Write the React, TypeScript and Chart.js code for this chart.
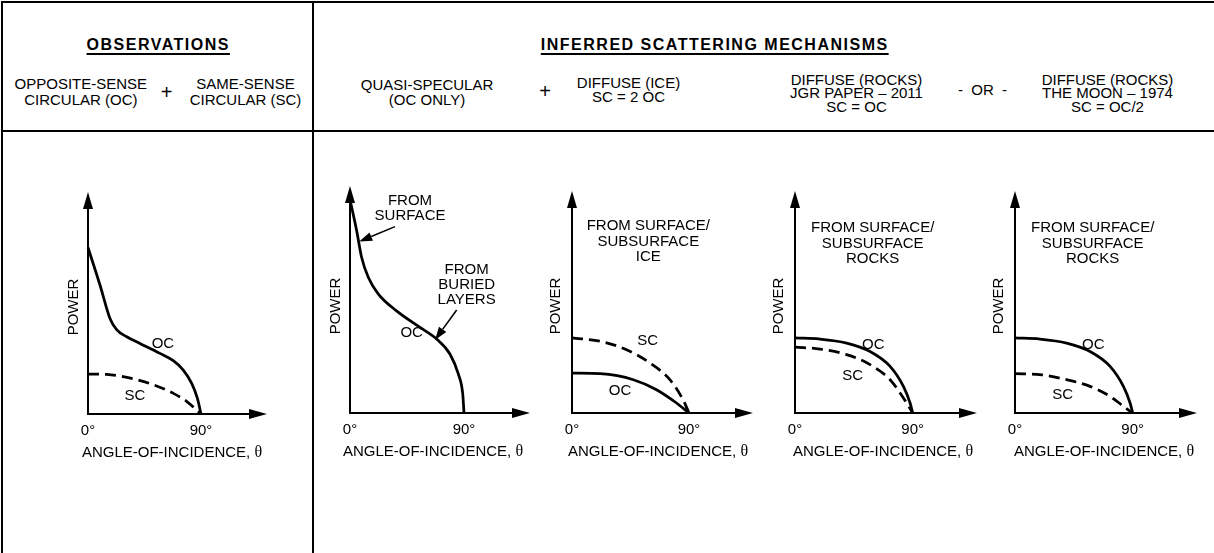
import React, { useEffect, useRef } from "react";
import { Chart, registerables } from "chart.js";

Chart.register(...registerables);

const SANS = '"Liberation Sans", Arial, Helvetica, sans-serif';
const SERIF = '"Liberation Serif", "Times New Roman", serif';

// ---------- DATA ----------
// Panel 1: observations (OC + SC)
const obsOcTheta = [0, 9.6, 17.5, 22.8, 30.8, 41.4, 57.3, 67.9, 75.9, 82.6, 87.1, 90];
const obsOC = [75, 58, 43, 38, 34.8, 31.8, 27.3, 24, 19.8, 13.8, 7.1, 0];
const obsScTheta = [0, 15, 28, 49, 68, 79, 90];
const obsSC = [18, 17.8, 16.8, 13.8, 9.3, 5.5, 0];

// Panel 2: quasi-specular (OC only)
const qsTheta = [0, 5.3, 9.2, 14.5, 22.4, 37, 55.3, 68.4, 78.9, 85.5, 89, 90];
const qsOC = [94, 80.2, 68.5, 59.7, 52.4, 44.9, 37.7, 32.6, 26, 17.2, 8.4, 0];

// Panel 3: diffuse (ice), SC = 2 OC
const iceOcTheta = [0, 21.7, 47.2, 65, 80.4, 90];
const iceOC = [18, 17.7, 15, 10.5, 4.5, 0];
const iceScTheta = [0, 21.7, 42, 60, 75.3, 85.4, 90];
const iceSC = [33.8, 32.3, 28.5, 22.5, 15, 6, 0];

// Panel 4: diffuse (rocks) JGR 2011, SC = OC
const rockOcTheta = [0, 19.1, 39.5, 57.4, 72.7, 82.9, 88, 90];
const jgrOC = [33.8, 33.3, 31.5, 27.7, 21, 12, 4.5, 0];
const rockScTheta = [0, 19.1, 39.5, 57.4, 72.7, 82.9, 90];
const jgrSC = [29.7, 28.8, 26.3, 21.8, 15, 6.8, 0];

// Panel 5: diffuse (rocks) Moon 1974, SC = OC/2
const moonOC = [33.8, 33.3, 31.5, 27.7, 21, 12, 4.5, 0];
const moonSC = [17.7, 17.3, 15, 12, 7.5, 3, 0];

// Axis texts
const xTickValues = [0, 90];
const xTickLabels = ["0°", "90°"];
const yAxisTitle = "POWER";
const xAxisTitle = "ANGLE-OF-INCIDENCE, ";
const xAxisSymbol = "θ";

// Header texts
const headTitles = ["OBSERVATIONS", "INFERRED SCATTERING MECHANISMS"];
const obsHeads = [
  ["OPPOSITE-SENSE", "CIRCULAR (OC)"],
  ["SAME-SENSE", "CIRCULAR (SC)"],
];
const mechHeads = [
  ["QUASI-SPECULAR", "(OC ONLY)"],
  ["DIFFUSE (ICE)", "SC = 2 OC"],
  ["DIFFUSE (ROCKS)", "JGR PAPER – 2011", "SC = OC"],
  ["DIFFUSE (ROCKS)", "THE MOON – 1974", "SC = OC/2"],
];
const joiners = ["+", "+", "-\u00a0\u00a0OR\u00a0\u00a0-"];

// ---------- LAYOUT ----------
type Series = { theta: number[]; power: number[]; dashed: boolean };
type Label = { text: string; x: number; y: number };
type Arrow = { from: [number, number]; to: [number, number] };
type Panel = {
  originX: number;
  originY: number;
  x90: number;
  xTip: number;
  yTop: number;
  series: Series[];
  labels: Label[];
  arrows: Arrow[];
  titleOffset: number;
  powerOffset: number;
};

const panels: Panel[] = [
  {
    originX: 88, originY: 414, x90: 201, xTip: 267, yTop: 192,
    series: [
      { theta: obsOcTheta, power: obsOC, dashed: false },
      { theta: obsScTheta, power: obsSC, dashed: true },
    ],
    labels: [
      { text: "OC", x: 59.7, y: 32 },
      { text: "SC", x: 37.4, y: 8.6 },
    ],
    arrows: [],
    titleOffset: 84,
    powerOffset: -15,
  },
  {
    originX: 350, originY: 413, x90: 464, xTip: 530, yTop: 186,
    series: [{ theta: qsTheta, power: qsOC, dashed: false }],
    labels: [
      { text: "OC", x: 48.7, y: 35.8 },
      { text: "FROM", x: 47.4, y: 93.8 },
      { text: "SURFACE", x: 47.4, y: 87.5 },
      { text: "FROM", x: 92.1, y: 63.6 },
      { text: "BURIED", x: 92.1, y: 57.1 },
      { text: "LAYERS", x: 92.1, y: 50.3 },
    ],
    arrows: [
      { from: [35.5, 82.1], to: [7.3, 75.5] },
      { from: [84.2, 45.4], to: [67.1, 32.2] },
    ],
    titleOffset: 83,
    powerOffset: -15,
  },
  {
    originX: 572, originY: 413, x90: 689, xTip: 753, yTop: 191,
    series: [
      { theta: iceOcTheta, power: iceOC, dashed: false },
      { theta: iceScTheta, power: iceSC, dashed: true },
    ],
    labels: [
      { text: "SC", x: 58.2, y: 32.9 },
      { text: "OC", x: 36.9, y: 10.4 },
      { text: "FROM SURFACE/", x: 58.7, y: 84.7 },
      { text: "SUBSURFACE", x: 58.7, y: 77.5 },
      { text: "ICE", x: 58.7, y: 70.7 },
    ],
    arrows: [],
    titleOffset: 86,
    powerOffset: -17,
  },
  {
    originX: 795, originY: 413, x90: 912.7, xTip: 977, yTop: 191,
    series: [
      { theta: rockOcTheta, power: jgrOC, dashed: false },
      { theta: rockScTheta, power: jgrSC, dashed: true },
    ],
    labels: [
      { text: "OC", x: 59.9, y: 31.1 },
      { text: "SC", x: 44.1, y: 17.1 },
      { text: "FROM SURFACE/", x: 59.4, y: 83.8 },
      { text: "SUBSURFACE", x: 59.4, y: 76.6 },
      { text: "ROCKS", x: 59.4, y: 69.8 },
    ],
    arrows: [],
    titleOffset: 88,
    powerOffset: -17,
  },
  {
    originX: 1015, originY: 413, x90: 1132.7, xTip: 1197, yTop: 191,
    series: [
      { theta: rockOcTheta, power: moonOC, dashed: false },
      { theta: rockScTheta, power: moonSC, dashed: true },
    ],
    labels: [
      { text: "OC", x: 59.9, y: 31.1 },
      { text: "SC", x: 36.5, y: 8.9 },
      { text: "FROM SURFACE/", x: 59.4, y: 83.8 },
      { text: "SUBSURFACE", x: 59.4, y: 76.6 },
      { text: "ROCKS", x: 59.4, y: 69.8 },
    ],
    arrows: [],
    titleOffset: 89,
    powerOffset: -17,
  },
];

const CAP = 5.4; // cap-centre to baseline offset at 15px

function centerText(ctx: CanvasRenderingContext2D, text: string, cx: number, cy: number) {
  ctx.font = `15px ${SANS}`;
  ctx.textAlign = "center";
  ctx.textBaseline = "alphabetic";
  ctx.fillText(text, cx, cy + CAP);
}

function makePlugin(p: Panel) {
  return {
    id: "panelDecor",
    beforeDatasetsDraw(chart: any) {
      const ctx: CanvasRenderingContext2D = chart.ctx;
      const xs = chart.scales.x;
      const ys = chart.scales.y;
      const ox = xs.getPixelForValue(0);
      const oy = ys.getPixelForValue(0);
      const tipX = chart.chartArea.right;
      const tipY = chart.chartArea.top;
      ctx.save();
      ctx.strokeStyle = "#000";
      ctx.fillStyle = "#000";
      ctx.lineWidth = 2;
      ctx.beginPath();
      ctx.moveTo(ox, oy + 1);
      ctx.lineTo(ox, tipY + 10);
      ctx.moveTo(ox - 1, oy);
      ctx.lineTo(tipX - 10, oy);
      ctx.stroke();
      ctx.beginPath();
      ctx.moveTo(ox, tipY);
      ctx.lineTo(ox - 5, tipY + 17);
      ctx.lineTo(ox + 5, tipY + 17);
      ctx.closePath();
      ctx.fill();
      ctx.beginPath();
      ctx.moveTo(tipX, oy);
      ctx.lineTo(tipX - 18, oy - 5);
      ctx.lineTo(tipX - 18, oy + 5);
      ctx.closePath();
      ctx.fill();
      ctx.restore();
    },
    afterDatasetsDraw(chart: any) {
      const ctx: CanvasRenderingContext2D = chart.ctx;
      const xs = chart.scales.x;
      const ys = chart.scales.y;
      const ox = xs.getPixelForValue(0);
      const oy = ys.getPixelForValue(0);
      ctx.save();
      ctx.fillStyle = "#000";
      ctx.strokeStyle = "#000";
      // ticks
      xTickValues.forEach((v, i) => {
        centerText(ctx, xTickLabels[i], xs.getPixelForValue(v), oy + 16);
      });
      // x title with serif theta
      const base = oy + 38 + CAP;
      ctx.font = `15px ${SANS}`;
      const wa = ctx.measureText(xAxisTitle).width;
      ctx.font = `16px ${SERIF}`;
      const wb = ctx.measureText(xAxisSymbol).width;
      const start = ox + p.titleOffset - (wa + wb) / 2;
      ctx.textAlign = "left";
      ctx.textBaseline = "alphabetic";
      ctx.font = `15px ${SANS}`;
      ctx.fillText(xAxisTitle, start, base);
      ctx.font = `16px ${SERIF}`;
      ctx.fillText(xAxisSymbol, start + wa, base);
      // y title
      ctx.save();
      ctx.translate(ox + p.powerOffset, oy - 107);
      ctx.rotate(-Math.PI / 2);
      centerText(ctx, yAxisTitle, 0, 0);
      ctx.restore();
      // labels
      p.labels.forEach((l) => {
        centerText(ctx, l.text, xs.getPixelForValue(l.x), ys.getPixelForValue(l.y));
      });
      // arrows
      p.arrows.forEach((a) => {
        const x1 = xs.getPixelForValue(a.from[0]);
        const y1 = ys.getPixelForValue(a.from[1]);
        const x2 = xs.getPixelForValue(a.to[0]);
        const y2 = ys.getPixelForValue(a.to[1]);
        const ang = Math.atan2(y2 - y1, x2 - x1);
        const L = 13;
        const W = 4.5;
        const bx = x2 - L * Math.cos(ang);
        const by = y2 - L * Math.sin(ang);
        ctx.lineWidth = 1.6;
        ctx.beginPath();
        ctx.moveTo(x1, y1);
        ctx.lineTo(bx, by);
        ctx.stroke();
        ctx.beginPath();
        ctx.moveTo(x2, y2);
        ctx.lineTo(bx + W * Math.sin(ang), by - W * Math.cos(ang));
        ctx.lineTo(bx - W * Math.sin(ang), by + W * Math.cos(ang));
        ctx.closePath();
        ctx.fill();
      });
      ctx.restore();
    },
  };
}

function PanelChart({ p }: { p: Panel }) {
  const ref = useRef<HTMLCanvasElement | null>(null);
  const left = p.originX - 62;
  const top = 170;
  const right = p.xTip + 8;
  const bottom = 475;
  const w = right - left;
  const h = bottom - top;
  const xMax = ((p.xTip - p.originX) / (p.x90 - p.originX)) * 90;
  useEffect(() => {
    if (!ref.current) return;
    const chart = new Chart(ref.current, {
      type: "line",
      data: {
        datasets: p.series.map((s) => ({
          data: s.theta.map((t, i) => ({ x: t, y: s.power[i] })),
          borderColor: "#000",
          borderWidth: 2.75,
          borderDash: s.dashed ? [11, 6] : [],
          pointRadius: 0,
          cubicInterpolationMode: "monotone" as const,
          fill: false,
          clip: false as any,
        })),
      },
      options: {
        responsive: false,
        animation: false,
        devicePixelRatio: 1,
        events: [],
        layout: {
          padding: { left: 62, right: 8, top: p.yTop - top, bottom: bottom - p.originY },
        },
        plugins: { legend: { display: false }, tooltip: { enabled: false } },
        scales: {
          x: { type: "linear", display: false, min: 0, max: xMax },
          y: { type: "linear", display: false, min: 0, max: 100 },
        },
      },
      plugins: [makePlugin(p)],
    } as any);
    return () => chart.destroy();
  }, []);
  return (
    <canvas
      ref={ref}
      width={w}
      height={h}
      style={{ position: "absolute", left, top, width: w, height: h }}
    />
  );
}

function Txt({
  x, y, text, size = 15, bold = false, underline = false, ls = 0,
}: {
  x: number; y: number; text: string; size?: number; bold?: boolean; underline?: boolean; ls?: number;
}) {
  return (
    <div
      style={{
        position: "absolute",
        left: x - 250 + ls / 2,
        width: 500,
        top: y - 12,
        height: 24,
        lineHeight: "24px",
        textAlign: "center",
        fontFamily: SANS,
        fontSize: size,
        fontWeight: bold ? 700 : 400,
        letterSpacing: ls,
        whiteSpace: "pre",
        textDecoration: underline ? "underline" : "none",
        textUnderlineOffset: "3px",
        textDecorationThickness: "1.6px",
        color: "#000",
      }}
    >
      {text}
    </div>
  );
}

const line = (l: number, t: number, w: number, h: number) => (
  <div style={{ position: "absolute", left: l, top: t, width: w, height: h, background: "#000" }} />
);

export default function App() {
  useEffect(() => {
    document.body.style.margin = "0";
  }, []);
  const obsX = [80.8, 245.5];
  const obsY = [83.5, 100];
  const mechX = [427, 628.5, 856.5, 1107.5];
  const mechY = [
    [84.5, 100],
    [82.5, 96.5],
    [79.5, 93.3, 106.8],
    [79.5, 93.3, 106.8],
  ];
  const joinPos = [
    [166.7, 91.5, 20],
    [545, 90.5, 20],
    [982.5, 90, 15],
  ];
  return (
    <div
      style={{
        position: "absolute",
        left: 0,
        top: 0,
        width: 1214,
        height: 553,
        background: "#fff",
        overflow: "hidden",
      }}
    >
      {line(1, 1, 1213, 2)}
      {line(1, 1, 2, 552)}
      {line(312, 1, 2, 552)}
      {line(1, 130, 1213, 2)}
      <Txt x={157.5} y={44.5} text={headTitles[0]} size={16} bold underline ls={1.5} />
      <Txt x={714} y={44.5} text={headTitles[1]} size={16} bold underline ls={1.5} />
      {obsHeads.map((blk, i) =>
        blk.map((t, j) => <Txt key={`o${i}${j}`} x={obsX[i]} y={obsY[j]} text={t} />)
      )}
      {mechHeads.map((blk, i) =>
        blk.map((t, j) => <Txt key={`m${i}${j}`} x={mechX[i]} y={mechY[i][j]} text={t} />)
      )}
      {joiners.map((t, i) => (
        <Txt key={`j${i}`} x={joinPos[i][0]} y={joinPos[i][1]} size={joinPos[i][2]} text={t} />
      ))}
      {panels.map((p, i) => (
        <PanelChart key={i} p={p} />
      ))}
    </div>
  );
}
